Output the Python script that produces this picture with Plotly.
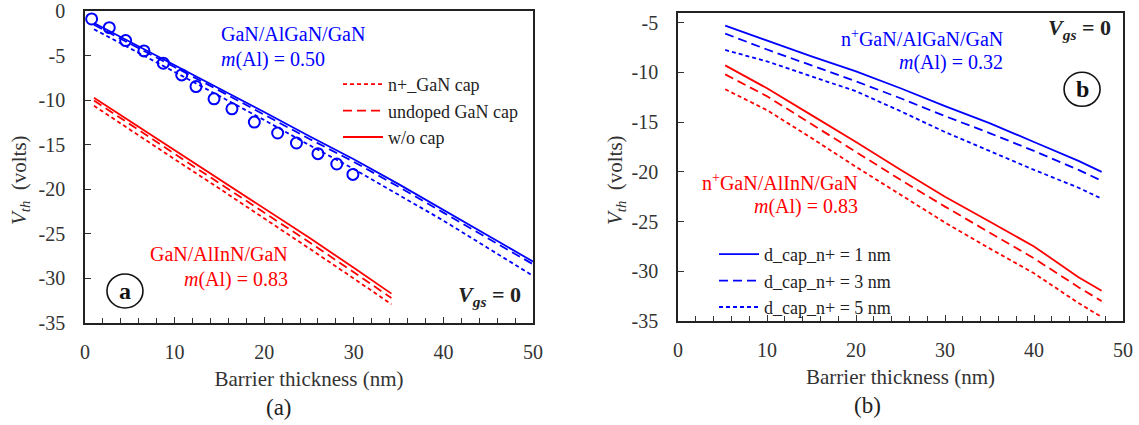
import plotly.graph_objects as go

FONT = "Liberation Serif"
BLUE = "#0000ff"
RED = "#ff0000"

# ---------------- Panel (a) data ----------------
a_x_blue = [1, 5, 10, 15, 20, 25, 30, 35, 40, 45, 50]
a_blue_wo = [-1.3, -3.4, -6.0, -8.7, -11.3, -14.0, -16.6, -19.4, -22.3, -25.2, -28.1]
a_blue_undoped = [-1.5, -3.6, -6.2, -8.9, -11.6, -14.3, -16.9, -19.7, -22.6, -25.5, -28.4]
a_blue_nplus = [-2.0, -4.1, -6.8, -9.5, -12.2, -15.0, -17.7, -20.6, -23.5, -26.6, -29.7]

a_x_red = [1, 5, 10, 15, 20, 25, 30, 34.2]
a_red_wo = [-9.7, -12.3, -15.6, -18.8, -22.1, -25.4, -28.8, -31.7]
a_red_undoped = [-10.0, -12.7, -16.0, -19.3, -22.6, -25.9, -29.3, -32.2]
a_red_nplus = [-10.6, -13.3, -16.6, -19.9, -23.2, -26.6, -30.0, -32.9]

a_exp_x = [0.74, 2.71, 4.54, 6.58, 8.74, 10.79, 12.39, 14.4, 16.4, 18.9, 21.5, 23.6, 26.0, 28.1, 29.9]
a_exp_y = [-0.85, -1.83, -3.28, -4.44, -5.82, -7.13, -8.44, -9.82, -10.94, -12.43, -13.66, -14.78, -15.98, -17.14, -18.31]

a_legend_names = ["n+_GaN cap", "undoped GaN cap", "w/o cap"]
a_yticks = [0, -5, -10, -15, -20, -25, -30, -35]
a_yticklabels = ["0", "-5", "-10", "-15", "-20", "-25", "-30", "-35"]

# ---------------- Panel (b) data ----------------
b_x = [5.3, 10, 15, 20, 25, 30, 35, 40, 45, 47.6]
b_blue_1nm = [-5.3, -6.8, -8.4, -9.9, -11.6, -13.4, -15.1, -17.0, -18.9, -20.0]
b_blue_3nm = [-6.1, -7.7, -9.3, -10.9, -12.6, -14.4, -16.1, -17.9, -19.8, -20.9]
b_blue_5nm = [-7.75, -8.9, -10.4, -11.9, -13.9, -16.0, -17.9, -19.8, -21.6, -22.7]
b_red_1nm = [-9.3, -11.6, -14.3, -17.0, -19.8, -22.5, -25.0, -27.5, -30.6, -31.95]
b_red_3nm = [-10.2, -12.4, -15.2, -18.0, -20.8, -23.5, -26.1, -28.7, -31.6, -33.0]
b_red_5nm = [-11.7, -13.8, -16.6, -19.5, -22.3, -25.1, -27.7, -30.2, -33.2, -34.6]

b_legend_names = ["d_cap_n+ = 1 nm", "d_cap_n+ = 3 nm", "d_cap_n+ = 5 nm"]
b_yticks = [-5, -10, -15, -20, -25, -30, -35]
b_yticklabels = ["-5", "-10", "-15", "-20", "-25", "-30", "-35"]

SOLID = "solid"
DASH = "9px,5px"
DOT = "4px,3px"
LW = 1.8

fig = go.Figure()

# Panel (a) lines
for ys, dash, name in [(a_red_nplus, DOT, a_legend_names[0]),
                       (a_red_undoped, DASH, a_legend_names[1]),
                       (a_red_wo, SOLID, a_legend_names[2])]:
    fig.add_trace(go.Scatter(x=a_x_red, y=ys, mode="lines", name=name,
                             line=dict(color=RED, width=LW, dash=dash),
                             xaxis="x", yaxis="y", legend="legend",
                             legendgroup=name, showlegend=True))
for ys, dash in [(a_blue_nplus, DOT), (a_blue_undoped, DASH), (a_blue_wo, SOLID)]:
    fig.add_trace(go.Scatter(x=a_x_blue, y=ys, mode="lines",
                             line=dict(color=BLUE, width=LW, dash=dash),
                             xaxis="x", yaxis="y", showlegend=False))
fig.add_trace(go.Scatter(x=a_exp_x, y=a_exp_y, mode="markers",
                         marker=dict(symbol="circle-open", size=11, color=BLUE,
                                     line=dict(width=2, color=BLUE)),
                         xaxis="x", yaxis="y", showlegend=False))

# Panel (b) lines
for ys, dash, name in [(b_blue_1nm, SOLID, b_legend_names[0]),
                       (b_blue_3nm, DASH, b_legend_names[1]),
                       (b_blue_5nm, DOT, b_legend_names[2])]:
    fig.add_trace(go.Scatter(x=b_x, y=ys, mode="lines", name=name,
                             line=dict(color=BLUE, width=LW, dash=dash),
                             xaxis="x2", yaxis="y2", legend="legend2",
                             legendgroup=name, showlegend=True))
for ys, dash in [(b_red_1nm, SOLID), (b_red_3nm, DASH), (b_red_5nm, DOT)]:
    fig.add_trace(go.Scatter(x=b_x, y=ys, mode="lines",
                             line=dict(color=RED, width=LW, dash=dash),
                             xaxis="x2", yaxis="y2", showlegend=False))

tickfont = dict(family=FONT, size=20, color="#333333")
titlefont = dict(family=FONT, size=21, color="#333333")

def xax(domain, anchor):
    return dict(domain=domain, anchor=anchor, range=[0, 50], dtick=10,
                ticks="inside", ticklen=6, tickcolor="#333", tickwidth=1,
                minor=dict(dtick=2, ticks="inside", ticklen=5, tickcolor="#333"),
                showline=True, linecolor="#222", linewidth=1.5, mirror=True,
                showgrid=False, zeroline=False, tickfont=tickfont,
                ticklabelstandoff=10, automargin=False,
                title=dict(text="Barrier thickness (nm)", font=titlefont, standoff=10))

def yax(domain, anchor, rng, tickvals, ticktext):
    return dict(domain=domain, anchor=anchor, range=rng, tickvals=tickvals, ticktext=ticktext,
                ticks="inside", ticklen=6, tickcolor="#333", tickwidth=1,
                showline=True, linecolor="#222", linewidth=1.5, mirror=True,
                showgrid=False, zeroline=False, tickfont=tickfont,
                ticklabelstandoff=14, automargin=False)

fig.update_layout(
    width=1139, height=425, autosize=False,
    font=dict(family=FONT, color="#333333"),
    margin=dict(l=0, r=0, t=0, b=0, autoexpand=False),
    paper_bgcolor="white", plot_bgcolor="white",
    xaxis=xax([85/1139, 533/1139], "y"),
    yaxis=yax([1-323/425, 1-11.4/425], "x", [-35, 0], a_yticks, a_yticklabels),
    xaxis2=xax([678/1139, 1123/1139], "y2"),
    yaxis2=yax([1-321/425, 1-12.7/425], "x2", [-35, -4], b_yticks, b_yticklabels),
    legend=dict(x=338/1139, y=1-66/425, xanchor="left", yanchor="top",
                bgcolor="rgba(0,0,0,0)", font=dict(family=FONT, size=18, color="#222"),
                tracegroupgap=0, itemwidth=40),
    legend2=dict(x=714/1139, y=1-236/425, xanchor="left", yanchor="top",
                 bgcolor="rgba(0,0,0,0)", font=dict(family=FONT, size=18, color="#222"),
                 tracegroupgap=0, itemwidth=40),
)

ann = []
def add(text, x, y, xref, yref, xanchor="left", color="#222", size=20, yanchor="middle", angle=0):
    ann.append(dict(text=text, x=x, y=y, xref=xref, yref=yref, xanchor=xanchor,
                    yanchor=yanchor, showarrow=False, textangle=angle,
                    font=dict(family=FONT, size=size, color=color)))

# Y-axis titles
add("<i>V</i><sub><i>th</i></sub>  (volts)", 20/1139, 1-180/425, "paper", "paper", "center", "#333", 21, angle=-90)
add("<i>V</i><sub><i>th</i></sub>  (volts)", 616/1139, 1-180/425, "paper", "paper", "center", "#333", 21, angle=-90)

# Panel (a) labels
add("GaN/AlGaN/GaN", 15.0, -2.57, "x", "y", "left", BLUE)
add("<i>m</i>(Al) = 0.50", 15.0, -5.37, "x", "y", "left", BLUE)
add("GaN/AlInN/GaN", 22.9, -27.2, "x", "y", "right", RED)
add("<i>m</i>(Al) = 0.83", 22.9, -30.1, "x", "y", "right", RED)
add("<b>a</b>", 4.46, -31.4, "x", "y", "center", "#111", 24)
add("<b><i>V</i><sub><i>gs</i></sub> = 0</b>", 48.9, -32.0, "x", "y", "right", "#222", 22)

# Panel (b) labels
add("n<sup>+</sup>GaN/AlGaN/GaN", 36.7, -6.55, "x2", "y2", "right", BLUE)
add("<i>m</i>(Al) = 0.32", 36.7, -8.96, "x2", "y2", "right", BLUE)
add("n<sup>+</sup>GaN/AlInN/GaN", 20.5, -21.0, "x2", "y2", "right", RED)
add("<i>m</i>(Al) = 0.83", 20.5, -23.5, "x2", "y2", "right", RED)
add("<b>b</b>", 45.4, -11.7, "x2", "y2", "center", "#111", 24)
add("<b><i>V</i><sub><i>gs</i></sub> = 0</b>", 48.9, -5.6, "x2", "y2", "right", "#222", 22)

# Panel captions
add("(a)", 279/1139, 1-407/425, "paper", "paper", "center", "#222", 23)
add("(b)", 867/1139, 1-405/425, "paper", "paper", "center", "#222", 23)

fig.update_layout(annotations=ann)

shapes = []
for xr, yr, cx, cy in [("x", "y", 4.46, -31.4), ("x2", "y2", 45.4, -11.7)]:
    shapes.append(dict(type="circle", xref=xr, yref=yr, xsizemode="pixel", ysizemode="pixel",
                       xanchor=cx, yanchor=cy, x0=-18, x1=18, y0=-17, y1=17,
                       line=dict(color="#111", width=1.6)))
fig.update_layout(shapes=shapes)

fig.write_html("out.html", config={"displayModeBar": False},
               post_script="document.body.style.margin='0';document.body.style.padding='0';document.body.style.overflow='hidden';")
